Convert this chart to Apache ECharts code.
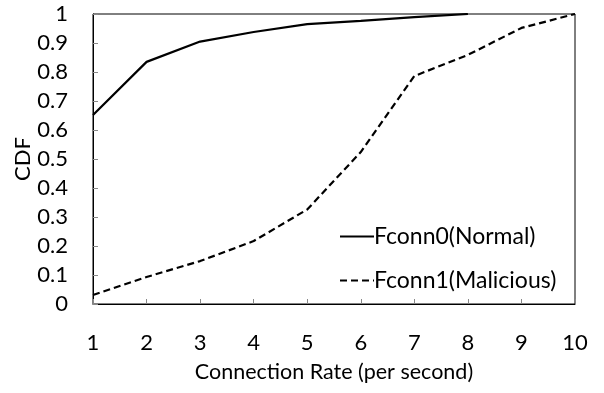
<!DOCTYPE html>
<html>
<head>
<meta charset="utf-8">
<script src="https://cdn.jsdelivr.net/npm/echarts@6/dist/echarts.min.js"></script>
<style>
  html, body { margin: 0; padding: 0; background: #fff; }
  #chart { width: 604px; height: 393px; }
</style>
</head>
<body>
<div id="chart"></div>
<script>
var rates = [1, 2, 3, 4, 5, 6, 7, 8, 9, 10];
var normalCdf = [0.652, 0.835, 0.905, 0.938, 0.965, 0.976, 0.989, 1.0];
var maliciousCdf = [0.031, 0.093, 0.148, 0.217, 0.326, 0.524, 0.786, 0.859, 0.952, 1.0];

function pairs(xs, ys) {
  return ys.map(function (y, i) { return [xs[i], y]; });
}

var font = 'Lato, "Open Sans", sans-serif';
var chart = echarts.init(document.getElementById('chart'));
chart.setOption({
  animation: false,
  grid: {
    left: 93, right: 29, top: 14, bottom: 89,
    outerBoundsMode: 'none',
    show: true, borderColor: '#000', borderWidth: 1
  },
  legend: {
    orient: 'vertical',
    left: 334, top: 220,
    itemWidth: 34, itemHeight: 14, itemGap: 21,
    itemStyle: { opacity: 0 },
    textStyle: { fontFamily: font, fontSize: 23, color: '#000', padding: [0, 0, 0, -5] },
    data: ['Fconn0(Normal)', 'Fconn1(Malicious)']
  },
  xAxis: {
    type: 'value', min: 1, max: 10, interval: 1,
    name: 'Connection Rate (per second)',
    nameLocation: 'middle', nameGap: 57, nameMoveOverlap: false,
    nameTextStyle: { fontFamily: font, fontSize: 21.5, color: '#000' },
    axisLine: { lineStyle: { color: '#000', width: 1 } },
    axisTick: { inside: true, length: 5, lineStyle: { color: '#888' } },
    axisLabel: { fontFamily: font, fontSize: 22, color: '#000', margin: 28 },
    splitLine: { show: false }
  },
  yAxis: {
    type: 'value', min: 0, max: 1, interval: 0.1,
    name: 'CDF',
    nameLocation: 'middle', nameGap: 59, nameMoveOverlap: false,
    nameTextStyle: { fontFamily: font, fontSize: 22, color: '#000' },
    axisLine: { show: true, lineStyle: { color: '#000', width: 1 } },
    axisTick: { show: true, inside: true, length: 5, lineStyle: { color: '#888' } },
    axisLabel: { fontFamily: font, fontSize: 22, color: '#000', margin: 25 },
    splitLine: { show: false }
  },
  series: [
    {
      name: 'Fconn0(Normal)', type: 'line', symbol: 'none',
      data: pairs(rates, normalCdf),
      lineStyle: { color: '#000', width: 2.2 },
      itemStyle: { color: '#000' }
    },
    {
      name: 'Fconn1(Malicious)', type: 'line', symbol: 'none',
      data: pairs(rates, maliciousCdf),
      lineStyle: { color: '#000', width: 2.2, type: [7, 4] },
      itemStyle: { color: '#000' }
    }
  ]
});
</script>
</body>
</html>
